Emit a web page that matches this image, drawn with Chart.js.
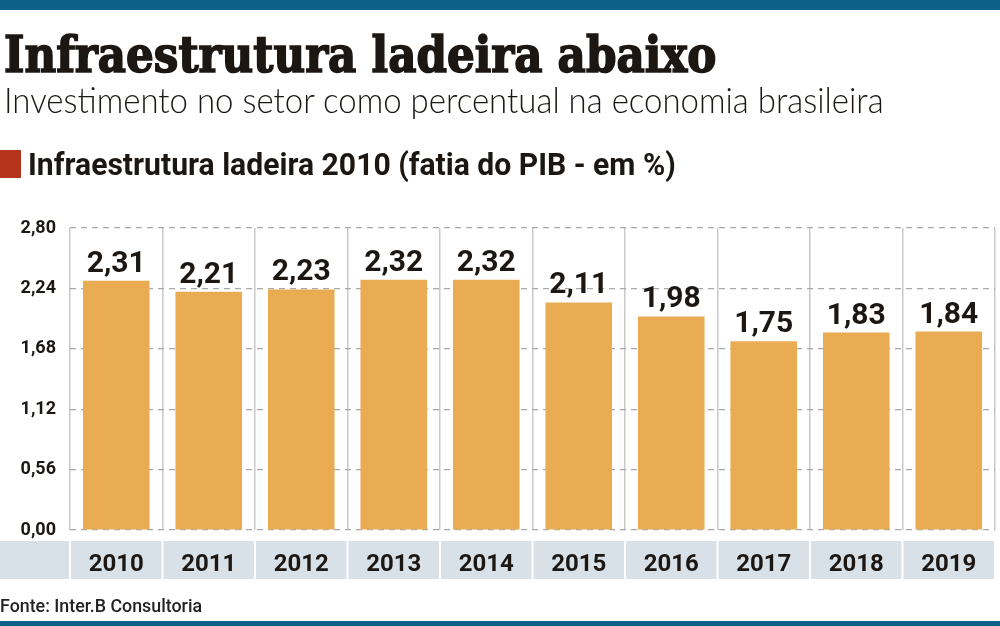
<!DOCTYPE html>
<html>
<head>
<meta charset="utf-8">
<script src="https://cdn.jsdelivr.net/npm/chart.js@4.4.1/dist/chart.umd.min.js"></script>
<style>
  html, body { margin: 0; padding: 0; background: #fff; }
  #wrap { position: relative; width: 1000px; height: 626px; overflow: hidden; }
  #wrap canvas { position: absolute; left: 0; top: 0; }
  .txt { position: absolute; white-space: nowrap; line-height: 1; color: #1c1713; transform-origin: 0 0; }
  #title { left: 4px; top: 34px; line-height: 0.8; font-family: "DejaVu Serif Condensed", "DejaVu Serif"; font-weight: bold; font-size: 51px; -webkit-text-stroke: 1.6px #1c1713; }
  #subtitle { left: 4px; top: 81px; font-family: Lato; font-weight: 300; font-size: 36px; }
  #legend { left: 28px; top: 149px; font-family: Roboto; font-weight: bold; font-size: 31px; }
  #swatch { position: absolute; left: 0; top: 150px; width: 21px; height: 28px; background: #b7341c; }
  #source { left: 0; top: 597px; font-family: Roboto; font-weight: 500; font-size: 18px; color: #222; }
  .bar { position: absolute; left: 0; width: 1000px; background: #0b6187; }
</style>
</head>
<body>
<div id="wrap">
  <canvas id="chart" width="1000" height="626"></canvas>
  <div class="bar" style="top:0;height:10px"></div>
  <div class="bar" style="top:621px;height:5px"></div>
  <div class="txt" id="title" data-w="712">Infraestrutura ladeira abaixo</div>
  <div class="txt" id="subtitle" data-w="880">Investimento no setor como percentual na economia brasileira</div>
  <div id="swatch"></div>
  <div class="txt" id="legend" data-w="648">Infraestrutura ladeira 2010 (fatia do PIB - em %)</div>
  <div class="txt" id="source" data-w="202">Fonte: Inter.B Consultoria</div>
</div>
<script>
const years = ["2010", "2011", "2012", "2013", "2014", "2015", "2016", "2017", "2018", "2019"];
const values = [2.31, 2.21, 2.23, 2.32, 2.32, 2.11, 1.98, 1.75, 1.83, 1.84];
const yTickValues = [0, 0.56, 1.12, 1.68, 2.24, 2.80];
const yTickLabels = ["0,00", "0,56", "1,12", "1,68", "2,24", "2,80"];

// squeeze the header texts to the widths in the reference
document.querySelectorAll(".txt[data-w]").forEach(el => {
  const w = +el.dataset.w;
  el.style.transform = "scaleX(" + (w / el.offsetWidth) + ")";
});

const bandPlugin = {
  id: "band",
  beforeDraw(chart) {
    const ctx = chart.ctx;
    const area = chart.chartArea;
    ctx.save();
    ctx.fillStyle = "#d9e1e8";
    ctx.fillRect(0, 541, area.right, 38);
    ctx.fillStyle = "#fff";
    for (let i = 0; i <= years.length; i++) {
      const px = area.left + (area.right - area.left) * i / years.length;
      ctx.fillRect(px - 1, 541, 2, 38);
    }
    ctx.restore();
  }
};

const labelPlugin = {
  id: "valueLabels",
  afterDatasetsDraw(chart) {
    const ctx = chart.ctx;
    const meta = chart.getDatasetMeta(0);
    ctx.save();
    ctx.fillStyle = "#1c1713";
    ctx.font = "bold 30px Roboto";
    ctx.textAlign = "center";
    ctx.textBaseline = "alphabetic";
    meta.data.forEach((bar, i) => {
      ctx.fillText(values[i].toFixed(2).replace(".", ","), bar.x, bar.y - 9);
    });
    ctx.restore();
  }
};

new Chart(document.getElementById("chart"), {
  type: "bar",
  data: {
    labels: years,
    datasets: [{
      data: values,
      backgroundColor: "#e9ac52",
      barPercentage: 0.72,
      categoryPercentage: 1
    }]
  },
  options: {
    responsive: false,
    animation: false,
    devicePixelRatio: 1,
    layout: { padding: { top: 228, right: 5, bottom: 46, left: 0 } },
    plugins: { legend: { display: false }, tooltip: { enabled: false } },
    scales: {
      x: {
        grid: { offset: true, color: "#c9c9c9", lineWidth: 1.5, drawTicks: false },
        border: { display: false },
        ticks: { color: "#1c1713", font: { family: "Roboto", weight: "bold", size: 24 }, padding: 21 },
        afterFit(scale) { scale.height = 50; }
      },
      y: {
        min: 0,
        max: 2.8,
        afterBuildTicks(scale) { scale.ticks = yTickValues.map(v => ({ value: v })); },
        grid: { color: "#a9a9a9", lineWidth: 1.2, drawTicks: false },
        border: { display: false, dash: [6, 5] },
        ticks: {
          color: "#1c1713",
          font: { family: "Roboto", weight: "bold", size: 18 },
          padding: 14,
          callback: (v, i) => yTickLabels[i]
        },
        afterFit(scale) { scale.width = 70; }
      }
    }
  },
  plugins: [bandPlugin, labelPlugin]
});
</script>
</body>
</html>
